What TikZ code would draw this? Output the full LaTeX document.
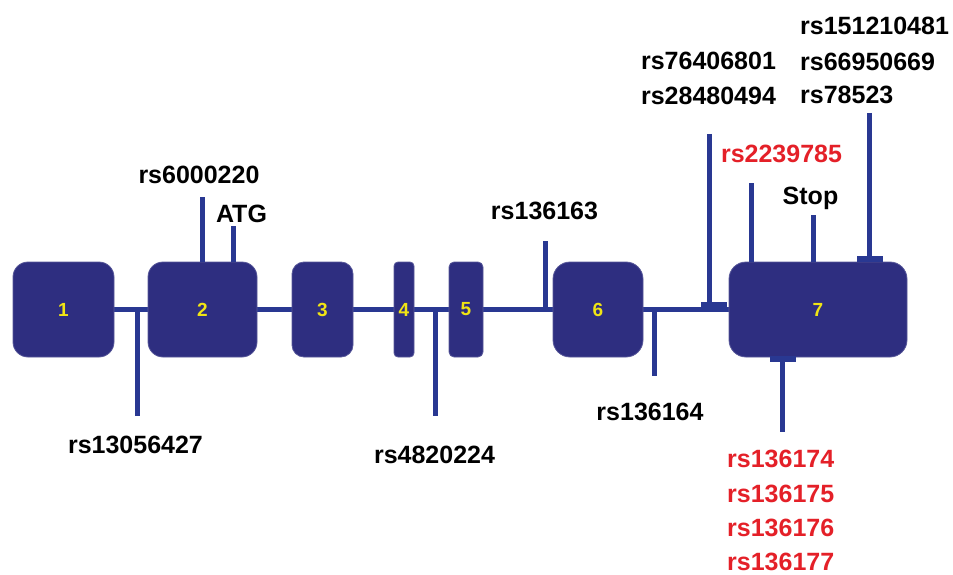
\documentclass[tikz,border=0pt]{standalone}
\usepackage{fontspec}
\setmainfont{Liberation Sans}
\usetikzlibrary{backgrounds}
\definecolor{exonfill}{RGB}{46,46,128}
\definecolor{linec}{RGB}{41,56,146}
\definecolor{numc}{RGB}{240,228,20}
\definecolor{snpred}{RGB}{228,32,40}
\newcommand{\exnum}[1]{\raisebox{-1.5pt}{#1}}
\begin{document}
\begin{tikzpicture}[x=1pt,y=-1pt,
  exon/.style={fill=exonfill, draw=exonfill!80!white, line width=0.8pt, rounded corners=15pt, inner sep=0pt,
    minimum height=95pt, font=\fontsize{19}{19}\selectfont\bfseries, text=numc},
  gline/.style={draw=linec, line width=5pt},
  lab/.style={font=\fontsize{25}{25}\selectfont\bfseries, inner sep=0pt, anchor=base},
  labl/.style={lab, anchor=base west},
  capbar/.style={fill=linec, inner sep=0pt, minimum width=26pt, minimum height=6pt}]

\useasboundingbox (0,0) rectangle (953,575);

% exons
\node[exon, minimum width=101pt] (e1) at (63.5,309.5) {\exnum{1}};
\node[exon, minimum width=109pt] (e2) at (202.5,309.5) {\exnum{2}};
\node[exon, minimum width=61pt, rounded corners=12pt] (e3) at (322.5,309.5) {\exnum{3}};
\node[exon, minimum width=20pt, rounded corners=4pt] (e4) at (404,309.5) {\exnum{4}};
\node[exon, minimum width=34pt, rounded corners=5pt] (e5) at (466,309.5) {\exnum{5}};
\node[exon, minimum width=90pt, rounded corners=17pt] (e6) at (598,309.5) {\exnum{6}};
\node[exon, minimum width=178pt, rounded corners=17pt] (e7) at (818,309.5) {\exnum{7}};

% intron backbone
\begin{scope}[on background layer]
  \draw[gline] (e1.east) -- (e7.west);
\end{scope}

% rs13056427
\coordinate (a1) at (137.5,309);
\coordinate (a2) at (137.5,416);
\draw[gline] (a1) -- (a2);
\node[lab] (t1) at (135.5,453) {rs13056427};

% rs6000220
\coordinate (b1) at (202.5,197);
\draw[gline] (b1) -- (b1 |- e2.north);
\node[lab] (t2) at (199,183) {rs6000220};

% ATG
\coordinate (c1) at (233.5,226);
\draw[gline] (c1) -- (c1 |- e2.north);
\node[lab] (t3) at (241.5,222) {ATG};

% rs4820224
\coordinate (d1) at (435.5,309);
\coordinate (d2) at (435.5,416);
\draw[gline] (d1) -- (d2);
\node[lab] (t4) at (434.5,463) {rs4820224};

% rs136163
\coordinate (f1) at (545.5,241);
\coordinate (f2) at (545.5,309);
\draw[gline] (f1) -- (f2);
\node[lab] (t5) at (544.5,219) {rs136163};

% rs136164
\coordinate (g1) at (654.5,309);
\coordinate (g2) at (654.5,376);
\draw[gline] (g1) -- (g2);
\node[lab] (t6) at (650,420) {rs136164};

% rs76406801 / rs28480494
\node[capbar] (k1) at (713.5,304.5) {};
\coordinate (h1) at (709,134);
\draw[gline] (h1) -- (h1 |- k1.center);
\node[lab] (t7) at (708.5,70) {rs76406801};
\node[lab] (t8) at (708.5,105) {rs28480494};

% rs2239785
\coordinate (i1) at (751,183);
\draw[gline] (i1) -- (i1 |- e7.north);
\node[lab, text=snpred] (t9) at (781.5,163) {rs2239785};

% Stop
\coordinate (j1) at (813,215);
\draw[gline] (j1) -- (j1 |- e7.north);
\node[lab] (t10) at (810.5,204) {Stop};

% rs151210481 / rs66950669 / rs78523
\node[capbar] (k2) at (870,259) {};
\coordinate (m1) at (869,113);
\draw[gline] (m1) -- (m1 |- k2.center);
\node[labl] (t11) at (800,35) {rs151210481};
\node[labl] (t12) at (800,71) {rs66950669};
\node[labl] (t13) at (800,104) {rs78523};

% red cluster below exon 7
\node[capbar] (k3) at (783,359) {};
\coordinate (n2) at (782.5,432);
\draw[gline] (n2 |- k3.center) -- (n2);
\node[labl, text=snpred] (t14) at (727,467) {rs136174};
\node[labl, text=snpred] (t15) at (727,502) {rs136175};
\node[labl, text=snpred] (t16) at (727,536) {rs136176};
\node[labl, text=snpred] (t17) at (727,570) {rs136177};

\end{tikzpicture}
\end{document}
